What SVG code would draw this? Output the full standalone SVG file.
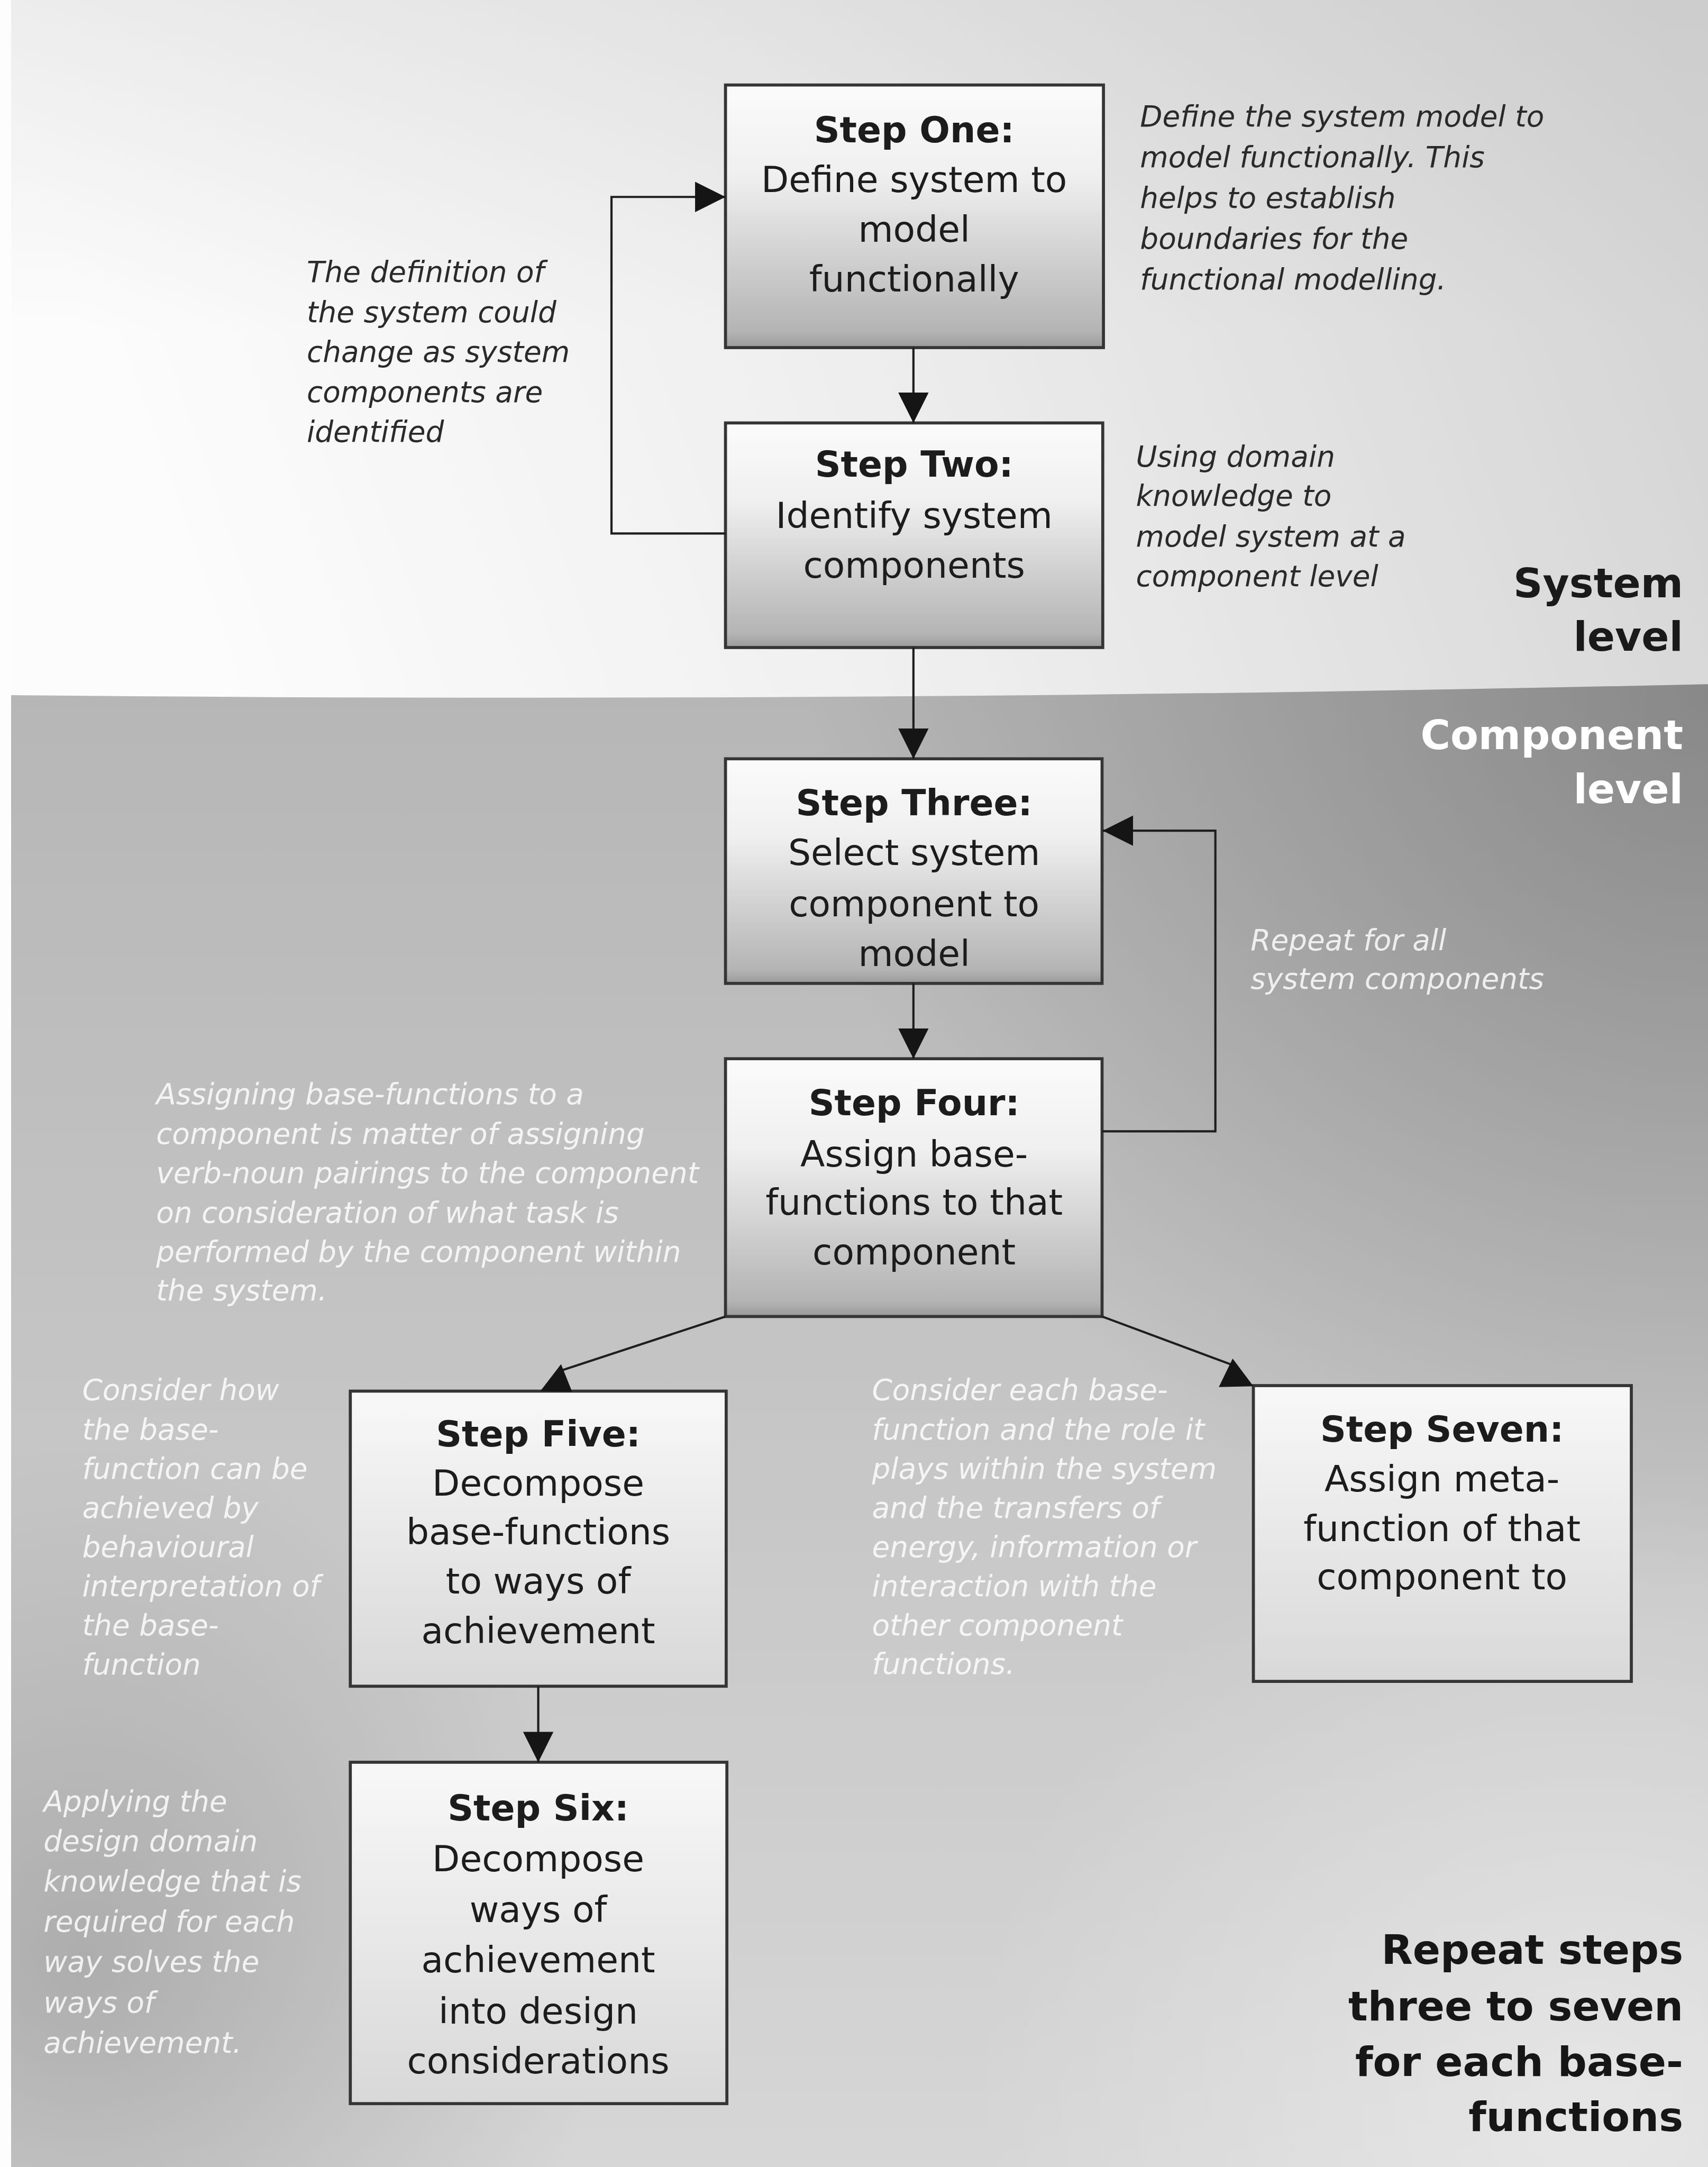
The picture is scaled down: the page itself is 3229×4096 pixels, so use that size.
<svg xmlns="http://www.w3.org/2000/svg" width="3229" height="4096" viewBox="0 0 3229 4096">
  <defs>
    <style>
      .box { stroke: #353535; stroke-width: 2.2; }
      .lbl { font-family: 'DejaVu Sans', Verdana, sans-serif; font-size: 26px; fill: #1c1c1c; text-anchor: middle; }
      .lbl .hd { font-weight: bold; }
      .note { font-family: 'DejaVu Sans', Verdana, sans-serif; font-size: 21px; font-style: italic; fill: #2a2a2a; }
      .wnote { font-family: 'DejaVu Sans', Verdana, sans-serif; font-size: 21px; font-style: italic; fill: #ffffff; fill-opacity: 0.82; }
      .level { font-family: 'DejaVu Sans', Verdana, sans-serif; font-size: 29.5px; font-weight: bold; text-anchor: end; }
      .conn { fill: none; stroke: #1e1e1e; stroke-width: 1.6; }
      .head { fill: #151515; }
    </style>
    <linearGradient id="bgTop" gradientUnits="userSpaceOnUse" x1="1236" y1="120" x2="150" y2="500">
      <stop offset="0" stop-color="#d3d3d3"/>
      <stop offset="0.55" stop-color="#eeeeee"/>
      <stop offset="1" stop-color="#fcfcfc"/>
    </linearGradient>
    <linearGradient id="topShade" gradientUnits="userSpaceOnUse" x1="0" y1="0" x2="0" y2="240">
      <stop offset="0" stop-color="#b8b8b8" stop-opacity="0.22"/>
      <stop offset="1" stop-color="#b8b8b8" stop-opacity="0"/>
    </linearGradient>
    <linearGradient id="bgLow" gradientUnits="userSpaceOnUse" x1="0" y1="500" x2="0" y2="1568">
      <stop offset="0" stop-color="#b6b6b6"/>
      <stop offset="0.45" stop-color="#c4c4c4"/>
      <stop offset="1" stop-color="#d6d6d6"/>
    </linearGradient>
    <radialGradient id="darkTR" gradientUnits="userSpaceOnUse" cx="1236" cy="505" r="650">
      <stop offset="0" stop-color="#6a6a6a" stop-opacity="0.6"/>
      <stop offset="1" stop-color="#6a6a6a" stop-opacity="0"/>
    </radialGradient>
    <radialGradient id="darkBL" gradientUnits="userSpaceOnUse" cx="60" cy="1420" r="380">
      <stop offset="0" stop-color="#808080" stop-opacity="0.45"/>
      <stop offset="1" stop-color="#808080" stop-opacity="0"/>
    </radialGradient>
    <radialGradient id="lightBR" gradientUnits="userSpaceOnUse" cx="1150" cy="1520" r="450">
      <stop offset="0" stop-color="#ffffff" stop-opacity="0.4"/>
      <stop offset="1" stop-color="#ffffff" stop-opacity="0"/>
    </radialGradient>
    <linearGradient id="boxUpper" x1="0" y1="0" x2="0" y2="1">
      <stop offset="0" stop-color="#fbfbfb"/>
      <stop offset="0.35" stop-color="#efefef"/>
      <stop offset="0.94" stop-color="#b4b4b4"/>
      <stop offset="1" stop-color="#9a9a9a"/>
    </linearGradient>
    <linearGradient id="boxLower" x1="0" y1="0" x2="0" y2="1">
      <stop offset="0" stop-color="#f8f8f8"/>
      <stop offset="1" stop-color="#d8d8d8"/>
    </linearGradient>
    <marker id="arrow" markerUnits="userSpaceOnUse" viewBox="0 0 22 22" refX="22" refY="11" markerWidth="22" markerHeight="22" orient="auto">
      <path d="M0,0 L22,11 L0,22 Z" fill="#151515"/>
    </marker>
  </defs>

  <g transform="scale(2.6125)">
    <!-- background: system level band and component level band -->
    <g id="background">
      <rect x="0" y="0" width="1236" height="1568" fill="url(#bgTop)"/>
      <rect x="0" y="0" width="1236" height="240" fill="url(#topShade)"/>
      <path d="M8,503 Q620,509 1236,495 L1236,1568 L8,1568 Z" fill="url(#bgLow)"/>
      <path d="M8,503 Q620,509 1236,495 L1236,1568 L8,1568 Z" fill="url(#darkTR)"/>
      <path d="M8,503 Q620,509 1236,495 L1236,1568 L8,1568 Z" fill="url(#darkBL)"/>
      <path d="M8,503 Q620,509 1236,495 L1236,1568 L8,1568 Z" fill="url(#lightBR)"/>
      <rect x="0" y="0" width="8" height="1568" fill="#fdfdfd"/>
    </g>

    <!-- level captions -->
    <g id="system-level">
      <text class="level" fill="#1a1a1a"><tspan x="1218" y="432">System</tspan><tspan x="1218" y="471">level</tspan></text>
    </g>
    <g id="component-level">
      <text class="level" fill="#ffffff"><tspan x="1218" y="542">Component</tspan><tspan x="1218" y="581">level</tspan></text>
    </g>
    <g id="repeat-steps">
      <text class="level" fill="#161616"><tspan x="1218" y="1421">Repeat steps</tspan><tspan x="1218" y="1462">three to seven</tspan><tspan x="1218" y="1502">for each base-</tspan><tspan x="1218" y="1542">functions</tspan></text>
    </g>

    <!-- process steps -->
    <g id="step-one">
      <rect class="box" x="525" y="61.5" width="273.5" height="190" fill="url(#boxUpper)"/>
      <text class="lbl"><tspan class="hd" x="661.5" y="103">Step One:</tspan><tspan x="661.5" y="139">Define system to</tspan><tspan x="661.5" y="175">model</tspan><tspan x="661.5" y="211">functionally</tspan></text>
    </g>
    <g id="step-two">
      <rect class="box" x="525" y="306" width="273" height="162.5" fill="url(#boxUpper)"/>
      <text class="lbl"><tspan class="hd" x="661.5" y="345">Step Two:</tspan><tspan x="661.5" y="382">Identify system</tspan><tspan x="661.5" y="418">components</tspan></text>
    </g>
    <g id="step-three">
      <rect class="box" x="525" y="549" width="272.5" height="162.5" fill="url(#boxUpper)"/>
      <text class="lbl"><tspan class="hd" x="661.5" y="590">Step Three:</tspan><tspan x="661.5" y="626">Select system</tspan><tspan x="661.5" y="663">component to</tspan><tspan x="661.5" y="699">model</tspan></text>
    </g>
    <g id="step-four">
      <rect class="box" x="525" y="766" width="272.5" height="186.5" fill="url(#boxUpper)"/>
      <text class="lbl"><tspan class="hd" x="661.5" y="807">Step Four:</tspan><tspan x="661.5" y="844">Assign base-</tspan><tspan x="661.5" y="879">functions to that</tspan><tspan x="661.5" y="915">component</tspan></text>
    </g>
    <g id="step-five">
      <rect class="box" x="253.5" y="1006.5" width="272" height="213.5" fill="url(#boxLower)"/>
      <text class="lbl"><tspan class="hd" x="389.5" y="1046.5">Step Five:</tspan><tspan x="389.5" y="1082">Decompose</tspan><tspan x="389.5" y="1117.5">base-functions</tspan><tspan x="389.5" y="1153">to ways of</tspan><tspan x="389.5" y="1189">achievement</tspan></text>
    </g>
    <g id="step-six">
      <rect class="box" x="253.5" y="1275" width="272.5" height="247" fill="url(#boxLower)"/>
      <text class="lbl"><tspan class="hd" x="389.5" y="1317">Step Six:</tspan><tspan x="389.5" y="1354">Decompose</tspan><tspan x="389.5" y="1390.5">ways of</tspan><tspan x="389.5" y="1427">achievement</tspan><tspan x="389.5" y="1464">into design</tspan><tspan x="389.5" y="1500">considerations</tspan></text>
    </g>
    <g id="step-seven">
      <rect class="box" x="907" y="1002.5" width="273.5" height="214" fill="url(#boxLower)"/>
      <text class="lbl"><tspan class="hd" x="1043.5" y="1043">Step Seven:</tspan><tspan x="1043.5" y="1079">Assign meta-</tspan><tspan x="1043.5" y="1115">function of that</tspan><tspan x="1043.5" y="1150">component to</tspan></text>
    </g>

    <!-- explanatory notes -->
    <g id="note-define">
      <text class="note"><tspan x="825" y="91.5">Define the system model to</tspan><tspan x="825" y="121">model functionally. This</tspan><tspan x="825" y="150.5">helps to establish</tspan><tspan x="825" y="180">boundaries for the</tspan><tspan x="825" y="209.5">functional modelling.</tspan></text>
    </g>
    <g id="note-definition-change">
      <text class="note"><tspan x="222" y="204">The definition of</tspan><tspan x="222" y="233">the system could</tspan><tspan x="222" y="262">change as system</tspan><tspan x="222" y="291">components are</tspan><tspan x="222" y="319.5">identified</tspan></text>
    </g>
    <g id="note-domain">
      <text class="note"><tspan x="822" y="337.5">Using domain</tspan><tspan x="822" y="366">knowledge to</tspan><tspan x="822" y="395.5">model system at a</tspan><tspan x="822" y="424">component level</tspan></text>
    </g>
    <g id="note-repeat">
      <text class="wnote"><tspan x="905" y="687.5">Repeat for all</tspan><tspan x="905" y="715.5">system components</tspan></text>
    </g>
    <g id="note-assigning">
      <text class="wnote"><tspan x="113" y="799">Assigning base-functions to a</tspan><tspan x="113" y="827.5">component is matter of assigning</tspan><tspan x="113" y="856">verb-noun pairings to the component</tspan><tspan x="113" y="884.5">on consideration of what task is</tspan><tspan x="113" y="913">performed by the component within</tspan><tspan x="113" y="941">the system.</tspan></text>
    </g>
    <g id="note-consider-how">
      <text class="wnote"><tspan x="59.5" y="1013">Consider how</tspan><tspan x="59.5" y="1041.5">the base-</tspan><tspan x="59.5" y="1070">function can be</tspan><tspan x="59.5" y="1098">achieved by</tspan><tspan x="59.5" y="1126.5">behavioural</tspan><tspan x="59.5" y="1155">interpretation of</tspan><tspan x="59.5" y="1183">the base-</tspan><tspan x="59.5" y="1211.5">function</tspan></text>
    </g>
    <g id="note-consider-each">
      <text class="wnote"><tspan x="631" y="1013">Consider each base-</tspan><tspan x="631" y="1041.5">function and the role it</tspan><tspan x="631" y="1070">plays within the system</tspan><tspan x="631" y="1098">and the transfers of</tspan><tspan x="631" y="1126.5">energy, information or</tspan><tspan x="631" y="1155">interaction with the</tspan><tspan x="631" y="1183">other component</tspan><tspan x="631" y="1211">functions.</tspan></text>
    </g>
    <g id="note-applying">
      <text class="wnote"><tspan x="31.5" y="1310.5">Applying the</tspan><tspan x="31.5" y="1339.5">design domain</tspan><tspan x="31.5" y="1368.5">knowledge that is</tspan><tspan x="31.5" y="1397.5">required for each</tspan><tspan x="31.5" y="1426.5">way solves the</tspan><tspan x="31.5" y="1456">ways of</tspan><tspan x="31.5" y="1485">achievement.</tspan></text>
    </g>

    <!-- connectors -->
    <g id="connectors">
      <path class="conn" d="M661,251.5 V306" marker-end="url(#arrow)"/>
      <path class="conn" d="M525,386 H442.5 V142.5 H525" marker-end="url(#arrow)"/>
      <path class="conn" d="M661,468.5 V549" marker-end="url(#arrow)"/>
      <path class="conn" d="M661,711.5 V766" marker-end="url(#arrow)"/>
      <path class="conn" d="M797.5,818.5 H879.5 V601 H798" marker-end="url(#arrow)"/>
      <path class="conn" d="M525,952.5 L405,992"/>
      <polygon class="head" points="406,987 391,1006.5 414,1007"/>
      <path class="conn" d="M797.5,952.5 L893,988"/>
      <polygon class="head" points="892,983 882,1003.5 907,1003"/>
      <path class="conn" d="M389.5,1220 V1275" marker-end="url(#arrow)"/>
    </g>
  </g>
</svg>
